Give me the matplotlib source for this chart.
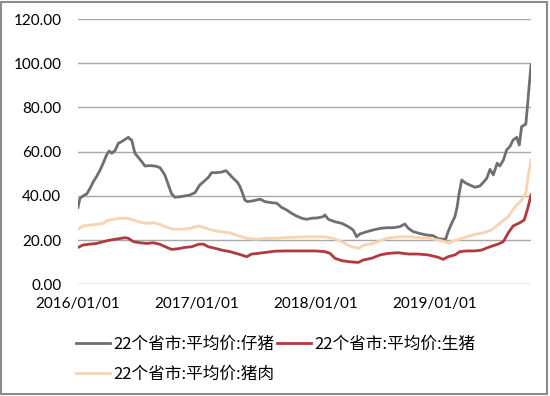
import matplotlib
matplotlib.use("Agg")
import matplotlib.pyplot as plt
import matplotlib.dates as mdates
from matplotlib.patches import Rectangle
import pandas as pd

plt.rcParams['font.family'] = ['Noto Sans CJK SC', 'DejaVu Sans']

# 22个省市:平均价:仔猪
piglet_dates = ["2016-01-01","2016-01-07","2016-01-17","2016-01-28","2016-02-07","2016-02-17","2016-02-27",
    "2016-03-09","2016-03-19","2016-03-29","2016-04-06","2016-04-14","2016-04-24","2016-05-04","2016-05-14",
    "2016-05-25","2016-06-04","2016-06-09","2016-06-14","2016-06-24","2016-07-04","2016-07-15","2016-07-25",
    "2016-08-09","2016-08-25","2016-09-09","2016-09-24","2016-10-05","2016-10-15","2016-10-25","2016-11-10",
    "2016-11-25","2016-12-10","2016-12-26","2017-01-05","2017-01-10","2017-01-25","2017-02-05","2017-02-15",
    "2017-03-02","2017-03-18","2017-03-31","2017-04-10","2017-04-22","2017-05-05","2017-05-13","2017-05-21",
    "2017-05-28","2017-06-05","2017-06-23","2017-07-14","2017-07-29","2017-08-19","2017-09-03","2017-09-18",
    "2017-10-04","2017-10-19","2017-11-03","2017-11-19","2017-12-04","2017-12-20","2018-01-04","2018-01-24",
    "2018-01-29","2018-02-09","2018-03-01","2018-03-22","2018-04-11","2018-04-26","2018-05-07","2018-05-17",
    "2018-06-07","2018-06-27","2018-07-18","2018-08-07","2018-08-27","2018-09-17","2018-10-02","2018-10-13",
    "2018-10-28","2018-11-17","2018-12-08","2018-12-28","2019-01-13","2019-01-28","2019-02-05","2019-02-12",
    "2019-02-23","2019-03-05","2019-03-12","2019-03-18","2019-03-26","2019-04-05","2019-04-20","2019-05-06",
    "2019-05-21","2019-06-02","2019-06-11","2019-06-21","2019-07-01","2019-07-13","2019-07-21","2019-08-01",
    "2019-08-11","2019-08-21","2019-08-31","2019-09-11","2019-09-19","2019-09-26","2019-10-09","2019-10-13",
    "2019-10-20","2019-10-25"]
piglet = [34.8,38.9,40.0,40.9,43.4,46.4,48.7,
    51.7,55.0,58.5,60.3,59.3,60.5,63.8,64.5,
    65.6,66.5,65.6,65.3,59.3,57.5,55.5,53.5,
    53.7,53.5,52.8,49.5,44.9,40.9,39.4,39.6,
    40.0,40.4,41.5,43.9,45.0,46.9,48.4,50.5,
    50.5,50.8,51.4,49.9,48.0,46.2,44.2,41.2,
    38.1,37.4,37.8,38.5,37.4,36.9,36.7,34.8,
    33.6,32.1,30.9,29.9,29.4,29.9,30.0,30.6,
    31.4,29.4,28.3,27.6,26.1,24.6,21.5,22.8,
    23.8,24.6,25.3,25.6,25.6,26.1,27.3,25.3,
    23.8,23.0,22.3,22.0,20.6,20.4,20.6,23.8,
    27.6,30.6,35.1,41.2,47.2,46.0,44.9,43.9,
    44.5,46.4,48.0,52.0,49.5,54.8,53.5,56.2,
    60.8,62.3,65.3,66.5,63.0,71.3,72.5,78.9,
    91.0,99.2]

# 22个省市:平均价:生猪
hog_dates = ["2016-01-01","2016-01-17","2016-02-07","2016-02-27","2016-03-19","2016-04-08","2016-04-29",
    "2016-05-25","2016-06-04","2016-06-19","2016-07-10","2016-07-30","2016-08-20","2016-09-09","2016-09-30",
    "2016-10-15","2016-11-04","2016-11-25","2016-12-16","2017-01-05","2017-01-20","2017-02-05","2017-02-25",
    "2017-03-18","2017-04-12","2017-05-08","2017-06-03","2017-06-18","2017-07-08","2017-08-03","2017-08-29",
    "2017-09-28","2017-10-29","2017-11-29","2017-12-30","2018-01-29","2018-02-14","2018-03-01","2018-03-22",
    "2018-04-16","2018-05-12","2018-05-27","2018-06-22","2018-07-18","2018-08-12","2018-09-12","2018-10-13",
    "2018-11-12","2018-12-13","2019-01-13","2019-01-28","2019-02-12","2019-03-05","2019-03-20","2019-04-10",
    "2019-05-06","2019-05-26","2019-06-21","2019-07-16","2019-08-01","2019-08-16","2019-08-31","2019-09-21",
    "2019-10-04","2019-10-15","2019-10-25"]
hog = [16.7,17.8,18.2,18.5,19.3,20.0,20.5,
    21.1,20.8,19.3,18.8,18.5,18.8,18.1,16.7,
    15.8,16.1,16.7,17.0,18.1,18.2,17.0,16.3,
    15.5,14.8,13.7,12.5,13.7,14.0,14.5,15.0,
    15.1,15.1,15.1,15.1,14.8,14.0,11.8,10.7,
    10.2,9.9,11.0,11.8,13.3,14.0,14.3,13.7,
    13.7,13.3,12.2,11.3,12.5,13.3,14.8,15.1,
    15.1,15.5,17.0,18.2,19.3,23.3,26.4,27.9,
    29.1,34.4,40.4]

# 22个省市:平均价:猪肉
pork_dates = ["2016-01-01","2016-01-17","2016-02-07","2016-02-27","2016-03-19","2016-03-29","2016-04-19",
    "2016-05-09","2016-05-30","2016-06-19","2016-07-10","2016-07-30","2016-08-20","2016-09-09","2016-09-30",
    "2016-10-20","2016-11-15","2016-12-10","2017-01-05","2017-01-20","2017-02-15","2017-03-13","2017-04-12",
    "2017-05-08","2017-06-03","2017-07-03","2017-08-03","2017-08-29","2017-09-28","2017-10-29","2017-11-29",
    "2017-12-30","2018-01-29","2018-02-24","2018-03-22","2018-04-16","2018-05-12","2018-06-01","2018-06-27",
    "2018-07-23","2018-08-17","2018-09-17","2018-10-18","2018-11-17","2018-12-18","2019-01-23","2019-02-12",
    "2019-03-10","2019-04-10","2019-05-06","2019-05-31","2019-06-26","2019-07-21","2019-08-16","2019-09-06",
    "2019-09-26","2019-10-09","2019-10-16","2019-10-25"]
pork = [24.9,26.4,26.8,27.1,27.6,28.8,29.4,
    29.9,29.9,29.1,28.1,27.6,27.8,27.1,25.8,
    24.9,24.9,25.3,26.4,25.8,24.6,23.8,23.3,
    21.9,20.8,20.4,20.8,20.8,21.1,21.3,21.5,
    21.5,21.5,20.8,19.3,17.3,16.3,17.8,18.5,
    20.0,21.1,21.5,21.5,21.1,20.8,19.7,18.8,
    20.0,21.5,22.6,23.3,24.6,27.6,30.6,35.1,
    38.1,41.2,48.7,56.2]

labels = ["22个省市:平均价:仔猪", "22个省市:平均价:生猪", "22个省市:平均价:猪肉"]
y_ticks = [0, 20, 40, 60, 80, 100, 120]
x_ticks = ["2016-01-01", "2017-01-01", "2018-01-01", "2019-01-01"]

fig = plt.figure(figsize=(5.5, 3.96), dpi=100)
ax = fig.add_axes([0.1418, 0.282, 0.8237, 0.670])

l1, = ax.plot(pd.to_datetime(piglet_dates), piglet, color="#6f6f6f", lw=2.0, label=labels[0])
l2, = ax.plot(pd.to_datetime(hog_dates), hog, color="#b03a3e", lw=2.0, label=labels[1])
l3, = ax.plot(pd.to_datetime(pork_dates), pork, color="#f8d3b0", lw=2.0, label=labels[2])

ax.set_ylim(0, 120)
ax.set_yticks(y_ticks)
ax.set_yticklabels([f"{v:.2f}" for v in y_ticks])
ax.set_xlim(pd.Timestamp("2016-01-01"), pd.Timestamp(piglet_dates[-1]))
ax.set_xticks(pd.to_datetime(x_ticks))
ax.xaxis.set_major_formatter(mdates.DateFormatter("%Y/%m/%d"))
ax.grid(axis="y", color="#a8a8a8", lw=1.0)
ax.set_axisbelow(True)
for s in ["top", "right", "left", "bottom"]:
    ax.spines[s].set_visible(False)
ax.tick_params(axis="both", length=0, labelsize=11, colors="#000000")
ax.tick_params(axis="y", pad=12)
ax.tick_params(axis="x", pad=9)
for t in ax.get_xticklabels() + ax.get_yticklabels():
    t.set_family(["Lato", "DejaVu Sans"])

fig.legend([l1, l3, l2], [labels[0], labels[2], labels[1]], ncol=2, loc="upper left",
           bbox_to_anchor=(0.139, 0.153), frameon=False, fontsize=12,
           handlelength=2.0, handletextpad=0.2, columnspacing=0.2,
           labelspacing=0.8, borderpad=0, borderaxespad=0)

fig.patches.append(Rectangle((0.002, 0.006), 0.993, 0.99, transform=fig.transFigure,
                             fill=False, edgecolor="#8c8c8c", lw=1.5))

fig.savefig("out.png", dpi=100)
